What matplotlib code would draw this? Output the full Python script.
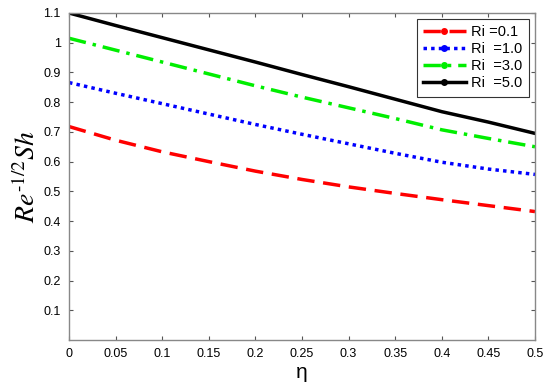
import matplotlib
matplotlib.use("Agg")
import matplotlib.pyplot as plt

eta = [0.0, 0.05, 0.1, 0.15, 0.2, 0.25, 0.3, 0.35, 0.4, 0.45, 0.5]
sh_ri01 = [0.718, 0.672, 0.633, 0.600, 0.568, 0.540, 0.515, 0.493, 0.472, 0.452, 0.432]
sh_ri10 = [0.866, 0.830, 0.795, 0.760, 0.725, 0.692, 0.660, 0.628, 0.598, 0.575, 0.557]
sh_ri30 = [1.015, 0.975, 0.935, 0.895, 0.855, 0.817, 0.781, 0.745, 0.707, 0.678, 0.650]
sh_ri50 = [1.100, 1.058, 1.017, 0.976, 0.935, 0.893, 0.852, 0.810, 0.768, 0.733, 0.695]
labels = ["Ri =0.1", "Ri  =1.0", "Ri  =3.0", "Ri  =5.0"]
xticks = [0, 0.05, 0.1, 0.15, 0.2, 0.25, 0.3, 0.35, 0.4, 0.45, 0.5]
xticklabels = ["0", "0.05", "0.1", "0.15", "0.2", "0.25", "0.3", "0.35", "0.4", "0.45", "0.5"]
yticks = [0.1, 0.2, 0.3, 0.4, 0.5, 0.6, 0.7, 0.8, 0.9, 1.0, 1.1]
yticklabels = ["0.1", "0.2", "0.3", "0.4", "0.5", "0.6", "0.7", "0.8", "0.9", "1", "1.1"]

plt.rcParams['font.family'] = ['Liberation Sans', 'DejaVu Sans']
plt.rcParams['mathtext.fontset'] = 'stix'

fig = plt.figure(figsize=(5.5, 3.89), dpi=100)
ax = fig.add_axes([0.1255, 0.126, 0.8472, 0.8406])

series = [sh_ri01, sh_ri10, sh_ri30, sh_ri50]
colors = ['#ff0000', '#0000ff', '#00ee00', '#000000']
styles = [(0, (5, 2.5)), (0, (1, 1.2)), (0, (5, 2, 1, 2)), '-']
handles = []
for ys, c, ls, lab in zip(series, colors, styles, labels):
    h, = ax.plot(eta, ys, color=c, linestyle=ls, linewidth=2.5, label=lab)
    handles.append(h)

ax.set_xlim(0, 0.5)
ax.set_ylim(0, 1.1)
ax.set_xticks(xticks)
ax.set_xticklabels(xticklabels)
ax.set_yticks(yticks)
ax.set_yticklabels(yticklabels)
ax.tick_params(direction='in', length=3, width=0.8, labelsize=9, top=True, right=True,
               color='#555555', pad=6)
for s in ax.spines.values():
    s.set_color('#888888')
    s.set_linewidth(1.0)

ax.set_xlabel('η', fontsize=15, labelpad=2)
ax.set_ylabel(r'$Re^{\text{-}1/2}Sh$', fontsize=20, labelpad=2)

leg = ax.legend(handles=handles, loc='upper right', fontsize=10.5, frameon=True,
                fancybox=False, edgecolor='black', handlelength=2.9, numpoints=1,
                borderaxespad=0.4, labelspacing=0.2, handletextpad=0.4,
                borderpad=0.45)
leg.get_frame().set_linewidth(0.8)
for lh in leg.get_lines():
    lh.set_marker('o')
    lh.set_markersize(4)

fig.savefig('out.png', dpi=100)
